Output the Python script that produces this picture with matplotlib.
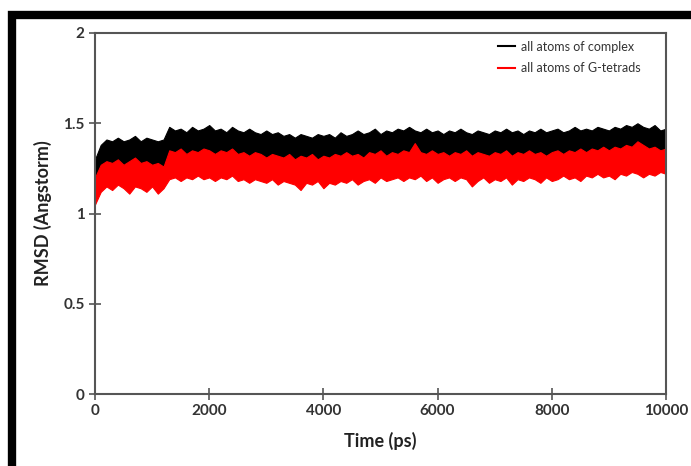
import numpy as np
import matplotlib
matplotlib.use("Agg")
import matplotlib.pyplot as plt
from matplotlib.patches import Rectangle

plt.rcParams['font.family'] = ['Lato', 'DejaVu Sans']

# time axis (ps), one value every 100 ps
time_ps = np.arange(0, 10001, 100)

# upper edge of the "all atoms of complex" trace (Angstrom)
complex_hi = [
    1.30, 1.38, 1.41, 1.40, 1.42, 1.40, 1.41, 1.43, 1.40, 1.42,
    1.41, 1.40, 1.41, 1.48, 1.46, 1.47, 1.45, 1.48, 1.46, 1.47,
    1.49, 1.46, 1.47, 1.45, 1.48, 1.46, 1.45, 1.47, 1.45, 1.44,
    1.46, 1.44, 1.45, 1.43, 1.44, 1.42, 1.44, 1.43, 1.42, 1.44,
    1.43, 1.44, 1.42, 1.45, 1.43, 1.44, 1.46, 1.44, 1.45, 1.47,
    1.44, 1.46, 1.45, 1.47, 1.46, 1.48, 1.46, 1.45, 1.47, 1.45,
    1.46, 1.44, 1.46, 1.45, 1.47, 1.45, 1.44, 1.46, 1.45, 1.44,
    1.46, 1.45, 1.47, 1.45, 1.46, 1.44, 1.46, 1.45, 1.47, 1.45,
    1.46, 1.47, 1.45, 1.46, 1.48, 1.46, 1.47, 1.46, 1.48, 1.47,
    1.46, 1.48, 1.47, 1.49, 1.48, 1.50, 1.48, 1.47, 1.49, 1.46,
    1.47,
]

# upper edge of the "all atoms of G-tetrads" trace
tetrad_hi = [
    1.20, 1.27, 1.29, 1.28, 1.30, 1.27, 1.29, 1.31, 1.28, 1.29,
    1.27, 1.28, 1.26, 1.35, 1.34, 1.36, 1.33, 1.35, 1.34, 1.36,
    1.35, 1.33, 1.35, 1.34, 1.36, 1.33, 1.34, 1.32, 1.34, 1.33,
    1.31, 1.33, 1.32, 1.31, 1.33, 1.30, 1.32, 1.31, 1.33, 1.30,
    1.32, 1.31, 1.33, 1.32, 1.34, 1.32, 1.33, 1.31, 1.34, 1.33,
    1.35, 1.32, 1.34, 1.33, 1.35, 1.34, 1.39, 1.34, 1.33, 1.35,
    1.33, 1.34, 1.32, 1.34, 1.33, 1.35, 1.32, 1.34, 1.33, 1.32,
    1.34, 1.33, 1.35, 1.32, 1.34, 1.33, 1.35, 1.33, 1.34, 1.32,
    1.34, 1.35, 1.33, 1.35, 1.34, 1.36, 1.34, 1.36, 1.35, 1.37,
    1.35, 1.37, 1.36, 1.38, 1.37, 1.40, 1.38, 1.36, 1.37, 1.35,
    1.36,
]

# lower edge of the "all atoms of G-tetrads" trace
tetrad_lo = [
    1.05, 1.12, 1.15, 1.13, 1.16, 1.14, 1.11, 1.15, 1.14, 1.12,
    1.15, 1.11, 1.14, 1.19, 1.20, 1.18, 1.20, 1.19, 1.21, 1.19,
    1.20, 1.18, 1.20, 1.19, 1.21, 1.18, 1.19, 1.17, 1.19, 1.18,
    1.17, 1.19, 1.16, 1.18, 1.17, 1.16, 1.13, 1.17, 1.16, 1.18,
    1.14, 1.17, 1.16, 1.18, 1.17, 1.19, 1.16, 1.18, 1.19, 1.17,
    1.20, 1.18, 1.19, 1.20, 1.18, 1.20, 1.19, 1.21, 1.18, 1.20,
    1.17, 1.19, 1.20, 1.18, 1.20, 1.19, 1.15, 1.18, 1.20, 1.17,
    1.19, 1.18, 1.20, 1.16, 1.19, 1.18, 1.20, 1.19, 1.17, 1.20,
    1.18, 1.19, 1.21, 1.19, 1.20, 1.18, 1.21, 1.20, 1.22, 1.20,
    1.21, 1.19, 1.22, 1.21, 1.23, 1.22, 1.20, 1.22, 1.21, 1.23,
    1.22,
]

labels = ["all atoms of complex", "all atoms of G-tetrads"]
colors = ["black", "#ff0000"]

fig = plt.figure(figsize=(6.91, 4.66), dpi=100)
ax = fig.add_axes([95 / 691, 72 / 466, 571 / 691, 361 / 466])

complex_lo = np.array(tetrad_lo) + 0.03
ax.fill_between(time_ps, complex_lo, complex_hi, color=colors[0], lw=0.8)
ax.fill_between(time_ps, tetrad_lo, tetrad_hi, color=colors[1], lw=0.8)

# legend proxies
ax.plot([], [], color=colors[0], lw=1.5, label=labels[0])
ax.plot([], [], color=colors[1], lw=1.5, label=labels[1])

ax.set_xlim(0, 10000)
ax.set_ylim(0, 2)
ax.set_xticks([0, 2000, 4000, 6000, 8000, 10000])
ax.set_yticks([0, 0.5, 1, 1.5, 2])
ax.set_yticklabels(["0", "0.5", "1", "1.5", "2"])

for s in ax.spines.values():
    s.set_color("#555555")
    s.set_linewidth(1.5)
ax.tick_params(direction="inout", length=8, width=1.2, color="#555555",
               labelsize=11, labelcolor="#333333")
for lab in ax.get_xticklabels() + ax.get_yticklabels():
    lab.set_fontweight("bold")

ax.set_xlabel("Time (ps)", fontsize=13, fontweight="bold", color="#222222", labelpad=10)
ax.set_ylabel("RMSD (Angstorm)", fontsize=13, fontweight="bold", color="#222222", labelpad=8)

leg = ax.legend(loc="upper right", frameon=False, fontsize=9, handlelength=1.3,
                handletextpad=0.5, labelspacing=0.75, bbox_to_anchor=(0.975, 1.01))
for t in leg.get_texts():
    t.set_color("#333333")

# thick black frame around the picture
fig.patches.append(Rectangle((12 / 691, -0.1), 1.2, 1.1 - 15 / 466,
                             transform=fig.transFigure, fill=False,
                             edgecolor="black", lw=6, zorder=10))

fig.savefig("out.png", dpi=100)
